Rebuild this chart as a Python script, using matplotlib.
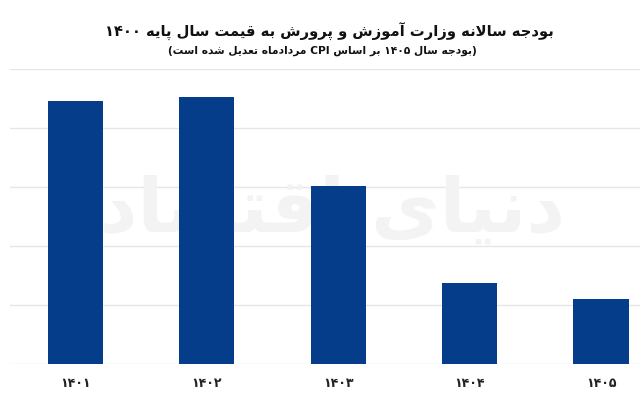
import matplotlib
matplotlib.use("Agg")
import matplotlib.pyplot as plt

# ---------------- data ----------------
categories = ["۱۴۰۱", "۱۴۰۲", "۱۴۰۳", "۱۴۰۴", "۱۴۰۵"]
values = [44.6, 45.3, 30.2, 13.8, 11.0]
title = "بودجه سالانه وزارت آموزش و پرورش به قیمت سال پایه ۱۴۰۰"
subtitle = "(بودجه سال ۱۴۰۵ بر اساس CPI مردادماه تعدیل شده است)"
watermark = "دنیای اقتصاد"

# ------------- minimal Persian shaping + bidi -------------
FORMS = {
    'ا': (0xFE8D, 0xFE8E, None, None), 'آ': (0xFE81, 0xFE82, None, None),
    'د': (0xFEA9, 0xFEAA, None, None), 'ذ': (0xFEAB, 0xFEAC, None, None),
    'ر': (0xFEAD, 0xFEAE, None, None), 'ز': (0xFEAF, 0xFEB0, None, None),
    'ژ': (0xFB8A, 0xFB8B, None, None), 'و': (0xFEED, 0xFEEE, None, None),
    'ب': (0xFE8F, 0xFE90, 0xFE91, 0xFE92), 'پ': (0xFB56, 0xFB57, 0xFB58, 0xFB59),
    'ت': (0xFE95, 0xFE96, 0xFE97, 0xFE98), 'ث': (0xFE99, 0xFE9A, 0xFE9B, 0xFE9C),
    'ج': (0xFE9D, 0xFE9E, 0xFE9F, 0xFEA0), 'چ': (0xFB7A, 0xFB7B, 0xFB7C, 0xFB7D),
    'ح': (0xFEA1, 0xFEA2, 0xFEA3, 0xFEA4), 'خ': (0xFEA5, 0xFEA6, 0xFEA7, 0xFEA8),
    'س': (0xFEB1, 0xFEB2, 0xFEB3, 0xFEB4), 'ش': (0xFEB5, 0xFEB6, 0xFEB7, 0xFEB8),
    'ص': (0xFEB9, 0xFEBA, 0xFEBB, 0xFEBC), 'ض': (0xFEBD, 0xFEBE, 0xFEBF, 0xFEC0),
    'ط': (0xFEC1, 0xFEC2, 0xFEC3, 0xFEC4), 'ظ': (0xFEC5, 0xFEC6, 0xFEC7, 0xFEC8),
    'ع': (0xFEC9, 0xFECA, 0xFECB, 0xFECC), 'غ': (0xFECD, 0xFECE, 0xFECF, 0xFED0),
    'ف': (0xFED1, 0xFED2, 0xFED3, 0xFED4), 'ق': (0xFED5, 0xFED6, 0xFED7, 0xFED8),
    'ک': (0xFB8E, 0xFB8F, 0xFB90, 0xFB91), 'گ': (0xFB92, 0xFB93, 0xFB94, 0xFB95),
    'ل': (0xFEDD, 0xFEDE, 0xFEDF, 0xFEE0), 'م': (0xFEE1, 0xFEE2, 0xFEE3, 0xFEE4),
    'ن': (0xFEE5, 0xFEE6, 0xFEE7, 0xFEE8), 'ه': (0xFEE9, 0xFEEA, 0xFEEB, 0xFEEC),
    'ی': (0xFBFC, 0xFBFD, 0xFBFE, 0xFBFF),
}
LAMALEF = {'ا': (0xFEFB, 0xFEFC), 'آ': (0xFEF5, 0xFEF6)}


def dual(c):
    return c in FORMS and FORMS[c][2] is not None


def shape_word(w):
    chars = []
    i = 0
    while i < len(w):
        if w[i] == 'ل' and i + 1 < len(w) and w[i + 1] in LAMALEF:
            chars.append(('LA', w[i + 1]))
            i += 2
        else:
            chars.append(('C', w[i]))
            i += 1

    def joins_fwd(t):
        return t[0] == 'C' and dual(t[1])

    def joins_back(t):
        return t[0] == 'LA' or t[1] in FORMS

    out = []
    for k, t in enumerate(chars):
        prev_j = k > 0 and joins_fwd(chars[k - 1]) and joins_back(t)
        next_j = k + 1 < len(chars) and joins_fwd(t) and joins_back(chars[k + 1])
        if t[0] == 'LA':
            iso, fin = LAMALEF[t[1]]
            out.append(chr(fin if prev_j else iso))
            continue
        c = t[1]
        if c not in FORMS:
            out.append(c)
            continue
        iso, fin, ini, med = FORMS[c]
        if prev_j and next_j:
            out.append(chr(med))
        elif prev_j:
            out.append(chr(fin))
        elif next_j:
            out.append(chr(ini))
        else:
            out.append(chr(iso))
    return ''.join(out)


def is_rtl(w):
    return any('\u0600' <= ch <= '\u06EF' or ch == 'ی' for ch in w)


def fa(text):
    pre = post = ''
    if text.startswith('(') and text.endswith(')'):
        pre, post, text = '(', ')', text[1:-1]
    words = text.split(' ')
    vis = []
    for w in words:
        if is_rtl(w):
            vis.append(shape_word(w)[::-1])
        else:
            vis.append(w)
    return pre + ' '.join(vis[::-1]) + post


# ---------------- figure ----------------
plt.rcParams['font.family'] = ['DejaVu Sans']
fig = plt.figure(figsize=(6.4, 4.0), dpi=100)
ax = fig.add_axes([9.75 / 640, 36 / 400, 657 / 640, 295 / 400])

ax.text(1.95, 26, fa(watermark), ha='center', va='center', fontsize=54,
        color='#f3f3f3', fontweight='bold', zorder=1)

x = list(range(len(categories)))
ax.bar(x, values, width=0.42, color='#063d8a', zorder=3)

ax.set_xlim(-0.5, 4.5)
ax.set_ylim(0, 50)
ax.set_yticks([0, 10, 20, 30, 40, 50])
ax.yaxis.grid(True, color='#e6e6e6', linewidth=1.0, zorder=0)
ax.set_axisbelow(True)
ax.tick_params(axis='y', left=False, labelleft=False)
ax.tick_params(axis='x', bottom=False, pad=6)
ax.set_xticks(x)
ax.set_xticklabels(categories, fontsize=9, fontweight='bold', color='#222222')
for s in ax.spines.values():
    s.set_visible(False)

fig.text(329 / 640, 1 - 32 / 400, fa(title), ha='center', va='center',
         fontsize=10.6, fontweight='bold', color='#111111')
fig.text(322 / 640, 1 - 51 / 400, fa(subtitle), ha='center', va='center',
         fontsize=7.7, fontweight='bold', color='#111111')

fig.savefig('out.png', dpi=100)
